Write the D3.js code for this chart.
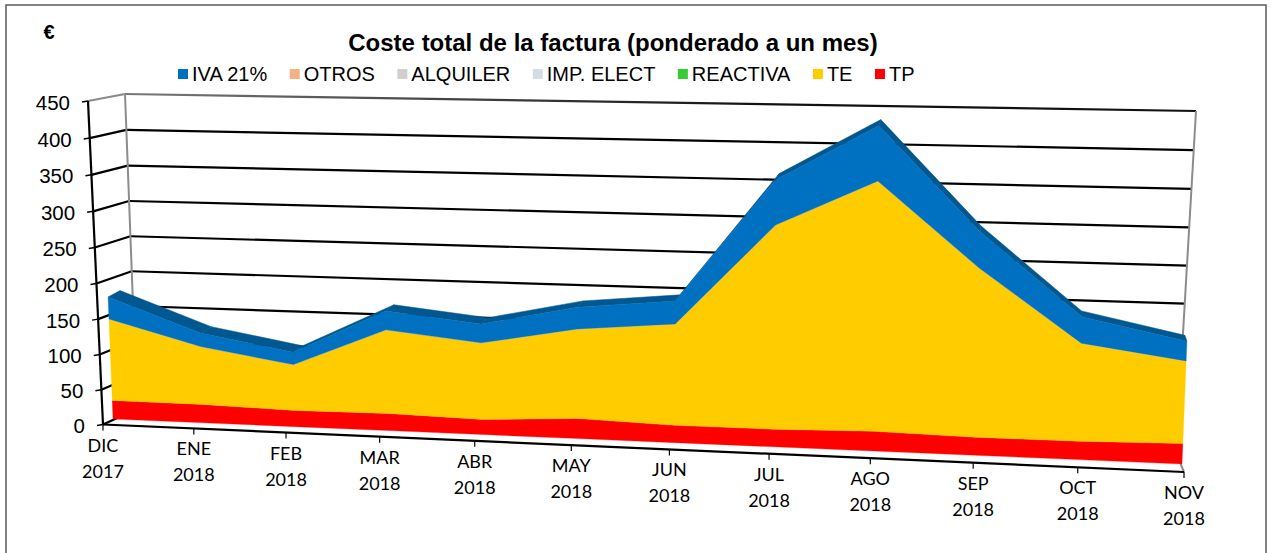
<!DOCTYPE html>
<html><head><meta charset="utf-8">
<script src="https://cdn.jsdelivr.net/npm/d3@7/dist/d3.min.js"></script>
<style>html,body{margin:0;padding:0;background:#fff;overflow:hidden}svg{display:block}</style>
</head><body><svg id="c" width="1271" height="553"></svg>
<script>
const categories=["DIC 2017","ENE 2018","FEB 2018","MAR 2018","ABR 2018","MAY 2018","JUN 2018","JUL 2018","AGO 2018","SEP 2018","OCT 2018","NOV 2018"];
const TP=[26.7,26.2,23.1,24.2,21.2,27.9,23.9,24.1,26.8,24.4,24.7,27.3];
const TE=[116.4,82.3,64.7,116.9,106.5,123.5,138.8,275.4,334,225.5,130.5,109.2];
const REACTIVA=[0,0,0,0,0,0,0,0,0,0,0,0];
const IMP_ELECT=[0,0,0,0,0,0,0,0,0,0,0,0];
const ALQUILER=[0,0,0,0,0,0,0,0,0,0,0,0];
const OTROS=[0,0,0,0,0,0,0,0,0,0,0,0];
const IVA=[31,19,17.5,26,26,29.8,31,60,72,47.5,34.5,25.8];
const seriesNames=["TP","TE","REACTIVA","IMP. ELECT","ALQUILER","OTROS","IVA 21%"];
const seriesValues=[TP,TE,REACTIVA,IMP_ELECT,ALQUILER,OTROS,IVA];
const legendOrder=["IVA 21%","OTROS","ALQUILER","IMP. ELECT","REACTIVA","TE","TP"];
const yTicks=[0,50,100,150,200,250,300,350,400,450];
const colors={"IVA 21%":"#0070C0","OTROS":"#F4B183","ALQUILER":"#D0CECE","IMP. ELECT":"#D6DCE5","REACTIVA":"#33CC33","TE":"#FFCC00","TP":"#FF0000"};
const topColor="#01578F";

// unit square -> quad homography (corners: u0v0,u1v0,u1v1,u0v1)
function homography(q){
  const [p0,p1,p2,p3]=q;
  const dx1=p1[0]-p2[0],dx2=p3[0]-p2[0],sx=p0[0]-p1[0]+p2[0]-p3[0];
  const dy1=p1[1]-p2[1],dy2=p3[1]-p2[1],sy=p0[1]-p1[1]+p2[1]-p3[1];
  const den=dx1*dy2-dx2*dy1;
  const g=(sx*dy2-dx2*sy)/den,h=(dx1*sy-sx*dy1)/den;
  const a=p1[0]-p0[0]+g*p1[0],b=p3[0]-p0[0]+h*p3[0],c=p0[0];
  const d=p1[1]-p0[1]+g*p1[1],e=p3[1]-p0[1]+h*p3[1],f=p0[1];
  return (u,v)=>{const w=g*u+h*v+1;return [(a*u+b*v+c)/w,(d*u+e*v+f)/w];};
}
const x=d3.scalePoint().domain(categories).range([0,1]);
const y=d3.scaleLinear().domain([0,450]).range([0,1]);

const front=homography([[103,424.5],[1184,472],[1209,120],[88,101]]);
const wall=homography([[137,409],[1176,453],[1196,111],[125,94]]);
const face=homography([[113,419],[1182,464],[1196,118],[100,99]]);
const faceBack=homography([[125,412.5],[1180,458],[1194,112],[112,92.5]]);

const svg=d3.select("#c");
const defs=svg.append("defs");
const grad=defs.append("linearGradient").attr("id","topLine").attr("gradientUnits","userSpaceOnUse")
  .attr("x1",125).attr("x2",1196).attr("y1",0).attr("y2",0);
grad.append("stop").attr("offset",0).attr("stop-color","#7a7a7a");
grad.append("stop").attr("offset",0.3).attr("stop-color","#444");
grad.append("stop").attr("offset",0.6).attr("stop-color","#111");
grad.append("stop").attr("offset",1).attr("stop-color","#111");

svg.append("rect").attr("x",6).attr("y",5).attr("width",1260).attr("height",560)
  .attr("fill","#fff").attr("stroke","#5a5a5a").attr("stroke-width",1.5);

const sans="'Liberation Sans',Arial,sans-serif";
svg.append("text").attr("x",49).attr("y",39).attr("text-anchor","middle")
  .attr("font-family",sans).attr("font-weight","bold").attr("font-size",20).attr("fill","#000").text("€");
svg.append("text").attr("x",613).attr("y",51).attr("text-anchor","middle")
  .attr("font-family",sans).attr("font-weight","bold").attr("font-size",24).attr("fill","#000")
  .text("Coste total de la factura (ponderado a un mes)");

// legend
let lx=178;
legendOrder.forEach(n=>{
  svg.append("rect").attr("x",lx).attr("y",69).attr("width",10).attr("height",10).attr("fill",colors[n]);
  const t=svg.append("text").attr("x",lx+14).attr("y",81).attr("font-family",sans).attr("font-size",20).attr("fill","#000").text(n);
  lx+=14+t.node().getComputedTextLength()+22.5;
});

const line=d3.line().x(d=>d[0]).y(d=>d[1]);
const gridG=svg.append("g").attr("fill","none");

// back wall gridlines and side wall lines
yTicks.forEach(v=>{
  const top=v===450;
  const col=top?"url(#topLine)":"#000";
  gridG.append("path").attr("d",line([wall(0,y(v)),wall(1,y(v))])).attr("stroke",col).attr("stroke-width",2.2);
  gridG.append("path").attr("d",line([front(0,y(v)),wall(0,y(v))])).attr("stroke",top?"#8a8a8a":"#000").attr("stroke-width",2.2);
});
// back wall verticals
gridG.append("path").attr("d",line([wall(0,0),wall(0,1)])).attr("stroke","#8c8c8c").attr("stroke-width",2);
gridG.append("path").attr("d",line([wall(1,0),wall(1,1)])).attr("stroke","#8c8c8c").attr("stroke-width",2);
gridG.append("path").attr("d",line([front(1,0),wall(1,0)])).attr("stroke","#8c8c8c").attr("stroke-width",2);

// stacked series
const rows=categories.map((c,i)=>{const r={c};seriesNames.forEach((n,k)=>r[n]=seriesValues[k][i]);return r;});
const stacked=d3.stack().keys(seriesNames)(rows);

// top surface of the uppermost layer, then front faces
const topLayer=stacked[stacked.length-1];
const topG=svg.append("g");
d3.pairs(topLayer).forEach(([p,q])=>{
  const u0=x(p.data.c),u1=x(q.data.c);
  topG.append("path").attr("fill",topColor).attr("stroke",topColor).attr("stroke-width",0.5)
    .attr("d",line([face(u0,y(p[1])),face(u1,y(q[1])),faceBack(u1,y(q[1])),faceBack(u0,y(p[1]))])+"Z");
});
const faces=svg.append("g");
stacked.forEach(layer=>{
  const pts=[...layer.map(d=>face(x(d.data.c),y(d[1]))),...layer.slice().reverse().map(d=>face(x(d.data.c),y(d[0])))];
  faces.append("path").attr("d",line(pts)+"Z").attr("fill",colors[layer.key]).attr("stroke",colors[layer.key]).attr("stroke-width",0.3);
});

// axes on the front plane
const axisG=svg.append("g");
axisG.append("path").attr("d",line([front(0,0),front(0,1)])).attr("stroke","#000").attr("stroke-width",2.2).attr("fill","none");
axisG.append("path").attr("d",line([front(0,0),front(1,0)])).attr("stroke","#000").attr("stroke-width",2.2).attr("fill","none");
yTicks.forEach(v=>{
  const p=front(0,y(v));
  axisG.append("path").attr("d",line([[p[0]-6,p[1]+1],p])).attr("stroke","#000").attr("stroke-width",1.5).attr("fill","none");
  axisG.append("text").attr("x",p[0]-18).attr("y",p[1]+8.5).attr("text-anchor","end")
    .attr("font-family",sans).attr("font-size",20.5).attr("fill","#000").text(v);
});
categories.forEach(c=>{
  const p=front(x(c),0);
  axisG.append("path").attr("d",line([p,[p[0],p[1]+6]])).attr("stroke","#000").attr("stroke-width",1.2).attr("fill","none");
  c.split(" ").forEach((s,i)=>{
    axisG.append("text").attr("x",p[0]).attr("y",p[1]+27+i*26).attr("text-anchor","middle")
      .attr("font-family","Lato,'Open Sans',sans-serif").attr("font-size",18).attr("fill","#000").text(s);
  });
});
</script></body></html>
